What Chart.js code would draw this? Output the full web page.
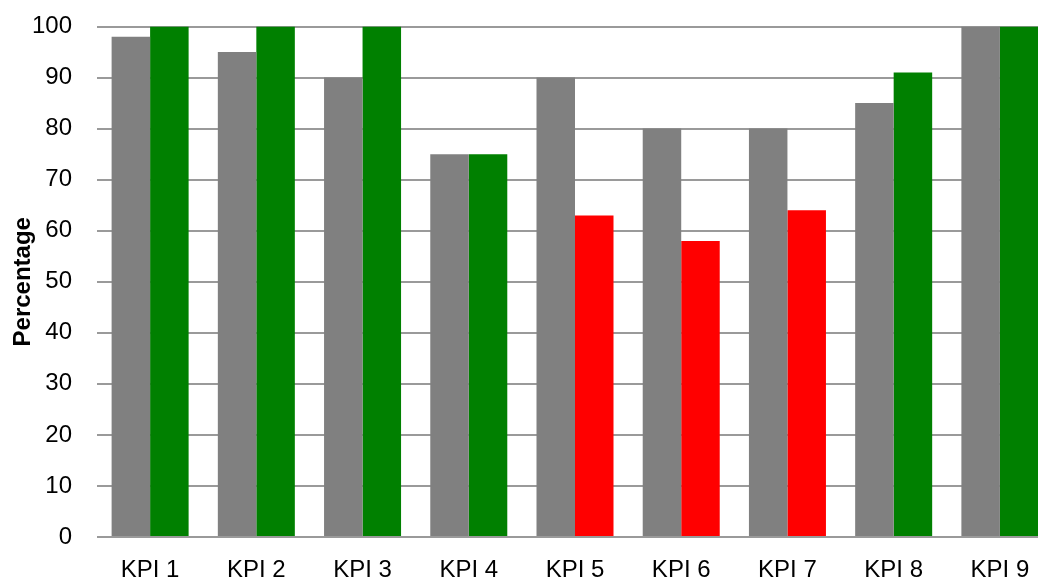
<!DOCTYPE html>
<html>
<head>
<meta charset="utf-8">
<script src="https://cdn.jsdelivr.net/npm/chart.js@4"></script>
<style>
    html, body { margin: 0; padding: 0; background: #fff; overflow: hidden; }
    .wrap { width: 1060px; height: 579px; }
</style>
</head>
<body>
<div class="wrap"><canvas id="kpiChart" width="1060" height="579"></canvas></div>
<script>

const categories = ['KPI 1', 'KPI 2', 'KPI 3', 'KPI 4', 'KPI 5', 'KPI 6', 'KPI 7', 'KPI 8', 'KPI 9'];
const target = [98, 95, 90, 75, 90, 80, 80, 85, 100];
const actual = [100, 100, 100, 75, 63, 58, 64, 91, 100];
const yTicks = [0, 10, 20, 30, 40, 50, 60, 70, 80, 90, 100];

// green when the target is met, red otherwise
const actualColors = actual.map((v, i) => v >= target[i] ? '#008000' : '#ff0000');

const font = "'Liberation Sans', Arial, sans-serif";

const ctx = document.getElementById('kpiChart').getContext('2d');

new Chart(ctx, {
    type: 'bar',
    data: {
        labels: categories,
        datasets: [{
            label: 'Target',
            data: target,
            backgroundColor: '#808080',
            borderWidth: 0
        }, {
            label: 'Actual',
            data: actual,
            backgroundColor: actualColors,
            borderWidth: 0
        }]
    },
    options: {
        responsive: false,
        animation: false,
        categoryPercentage: 0.725,
        barPercentage: 1.0,
        layout: {
            padding: { top: 26.5, right: 7, bottom: 0, left: 0 }
        },
        plugins: {
            legend: { display: false },
            tooltip: { enabled: false }
        },
        scales: {
            x: {
                grid: { display: false, drawTicks: false },
                border: { display: false },
                ticks: {
                    color: '#000',
                    padding: 19,
                    maxRotation: 0,
                    font: { family: font, size: 24 }
                },
                afterFit: (scale) => { scale.height = 42; }
            },
            y: {
                min: 0,
                max: 100,
                afterBuildTicks: (scale) => {
                    scale.ticks = yTicks.map(v => ({ value: v }));
                },
                grid: {
                    color: '#9a9a9a',
                    lineWidth: 2,
                    drawTicks: true,
                    tickLength: 25,
                    tickColor: 'rgba(0,0,0,0)'
                },
                border: { display: false },
                ticks: {
                    color: '#000',
                    padding: 0,
                    font: { family: font, size: 24 }
                },
                title: {
                    display: true,
                    text: 'Percentage',
                    color: '#000',
                    padding: { top: 8.5, bottom: 0 },
                    font: { family: font, size: 24, weight: 'bold' }
                },
                afterFit: (scale) => { scale.width = 97; }
            }
        }
    }
});

</script>
</body>
</html>
